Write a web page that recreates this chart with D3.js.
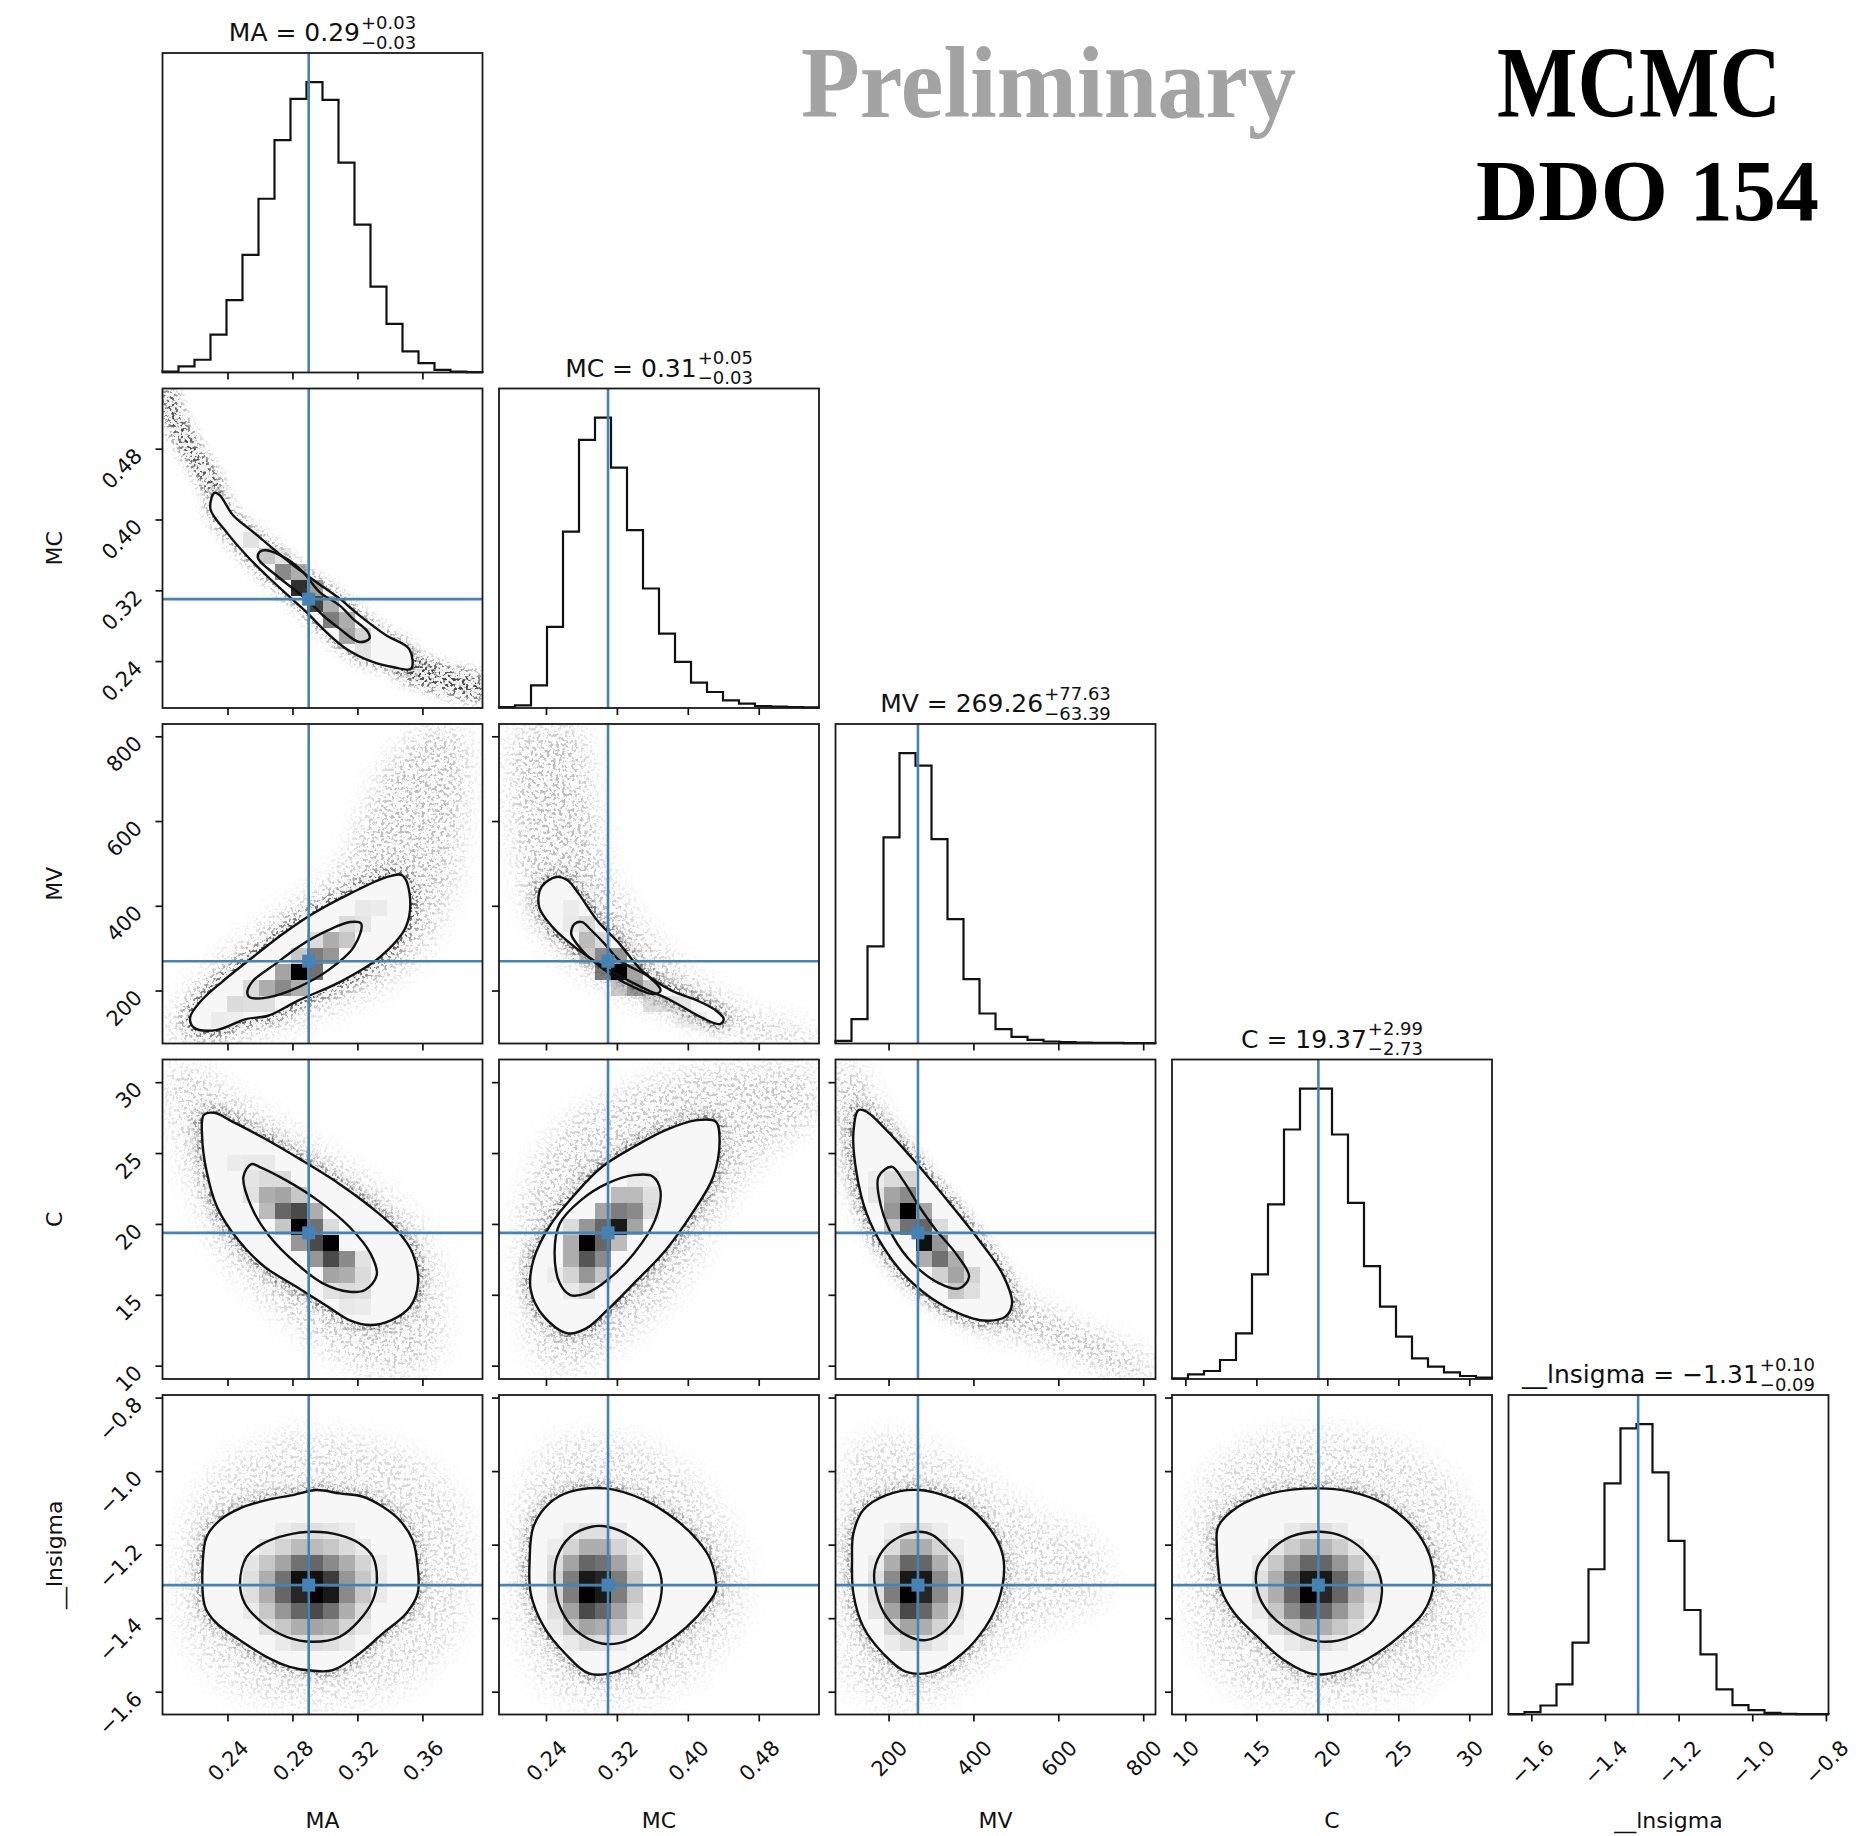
<!DOCTYPE html>
<html>
<head>
<meta charset="utf-8">
<script src="https://cdn.jsdelivr.net/npm/d3@7"></script>
<style>
  html, body { margin: 0; padding: 0; background: #fff; }
  svg { display: block; }
</style>
</head>
<body>
<svg id="fig" width="1860" height="1836"></svg>
<script>
// ---------------- posterior summary ----------------
const paramNames   = ["MA", "MC", "MV", "C", "__lnsigma"];
const paramRanges  = [[0.200, 0.397], [0.187, 0.548], [75, 829], [9.06, 31.6], [-1.662, -0.793]];
const medians      = [0.29, 0.31, 269.26, 19.37, -1.31];
const medianLabels = ["0.29", "0.31", "269.26", "19.37", "\u22121.31"];
const errPlus      = ["0.03", "0.05", "77.63", "2.99", "0.10"];
const errMinus     = ["0.03", "0.03", "63.39", "2.73", "0.09"];
const tickValues   = [[0.24, 0.28, 0.32, 0.36], [0.24, 0.32, 0.40, 0.48], [200, 400, 600, 800],
                      [10, 15, 20, 25, 30], [-1.6, -1.4, -1.2, -1.0, -0.8]];
const tickFormats  = [".2f", ".2f", "d", "d", ".1f"];
const nBins = 20;

// ---------------- 1D marginal histograms (counts per bin) ----------------
const histMA  = [3, 18, 38, 113, 216, 351, 518, 693, 816, 866, 813, 626, 441, 256, 145, 63, 28, 8, 3, 1];
const histMC  = [3, 8, 68, 243, 528, 803, 870, 720, 533, 358, 223, 138, 76, 48, 23, 13, 6, 4, 3, 2];
const histMV  = [8, 73, 291, 618, 871, 833, 613, 373, 193, 90, 43, 20, 11, 6, 4, 3, 2, 2, 1, 1];
const histC   = [2, 14, 24, 57, 137, 314, 524, 749, 872, 872, 734, 529, 339, 217, 127, 62, 37, 20, 9, 4];
const histLns = [1, 7, 27, 90, 215, 435, 692, 857, 870, 725, 520, 313, 180, 75, 28, 13, 5, 2, 1, 1];
const histograms = [histMA, histMC, histMV, histC, histLns];

// ---------------- 2D marginals: contour levels (outer / inner), in data units ----------------
const outerMC_MA = [[0.232,0.430],[0.2295,0.412],[0.2393,0.386],[0.2516,0.3596],[0.2639,0.337],[0.2762,0.316],[0.2885,0.2956],[0.3007,0.273],[0.313,0.254],[0.3294,0.239],[0.3417,0.2333],[0.353,0.2314],[0.352,0.2533],[0.3376,0.2692],[0.3212,0.2917],[0.309,0.3106],[0.2946,0.3294],[0.2803,0.3484],[0.268,0.367],[0.2557,0.386],[0.2434,0.4048],[0.2352,0.4275]];
const innerMC_MA = [[0.2598,0.3634],[0.2588,0.356],[0.270,0.337],[0.2803,0.322],[0.2905,0.307],[0.2987,0.2918],[0.309,0.2767],[0.3212,0.2616],[0.3274,0.2654],[0.3264,0.273],[0.3171,0.288],[0.309,0.303],[0.2967,0.318],[0.2864,0.3408],[0.2762,0.3558],[0.2639,0.3652]];

const outerMV_MA = [[0.2192,112.9],[0.233,106.6],[0.2513,132.6],[0.265,140.5],[0.2834,176],[0.3109,223.5],[0.3338,278.7],[0.3498,349.8],[0.3521,428.7],[0.3475,472],[0.3384,468.2],[0.3155,428.7],[0.2925,381.3],[0.2742,334],[0.2582,286.6],[0.2376,223.5],[0.2238,176],[0.217,136.6]];
const innerMV_MA = [[0.2536,184],[0.265,184],[0.2834,207.6],[0.3017,247],[0.3177,302.4],[0.3223,357.7],[0.3155,361.6],[0.3017,341.8],[0.2834,302.4],[0.2696,262.9],[0.2559,223.5],[0.2522,195.7]];

const outerMV_MC = [[0.2516,468],[0.2349,444.5],[0.2323,397],[0.2474,349.8],[0.2726,302.4],[0.3062,255],[0.3482,207.6],[0.3818,176],[0.4154,136.6],[0.4363,120.8],[0.4405,132.6],[0.4321,152.4],[0.4112,176],[0.3818,199.7],[0.3482,247],[0.323,310.2],[0.2978,365.5],[0.2768,428.7],[0.2643,460.3]];
const innerMV_MC = [[0.2726,357.7],[0.2684,334],[0.281,294.5],[0.302,255],[0.3314,215.5],[0.3608,191.9],[0.3692,199.7],[0.3566,231.3],[0.323,270.8],[0.3062,310.2],[0.2894,345.8],[0.281,361.6]];

const outerC_MA = [[0.2254,27.68],[0.2319,27.84],[0.2433,27.2],[0.2628,26.03],[0.2856,24.5],[0.3084,22.86],[0.328,21.21],[0.3442,19.57],[0.354,17.92],[0.3573,15.81],[0.3524,14.16],[0.341,13.22],[0.328,12.87],[0.315,13.22],[0.3019,14.16],[0.2824,15.57],[0.2628,16.98],[0.2466,18.86],[0.2335,21.21],[0.227,23.8],[0.2244,26.15]];
const innerC_MA = [[0.2547,24.22],[0.2498,23.33],[0.2547,21.21],[0.2661,19.1],[0.2824,17.21],[0.2987,15.81],[0.315,15.22],[0.3247,15.34],[0.3319,16.39],[0.328,17.92],[0.315,19.8],[0.2954,21.68],[0.2759,23.09],[0.2596,24.03]];

const outerC_MC = [[0.4317,27.2],[0.4107,27.32],[0.375,26.62],[0.3392,25.44],[0.3033,24.03],[0.2735,22.15],[0.2437,19.8],[0.2258,17.45],[0.2228,15.34],[0.2377,13.46],[0.2646,12.28],[0.2854,12.63],[0.3093,13.93],[0.3392,15.81],[0.375,18.15],[0.4048,20.74],[0.4287,23.33],[0.4358,25.91]];
const innerC_MC = [[0.36,23.37],[0.3392,23.44],[0.3093,22.86],[0.2795,21.68],[0.2556,20.04],[0.2497,17.92],[0.2556,15.81],[0.2675,14.98],[0.2854,15.1],[0.3093,16.04],[0.3392,17.92],[0.363,20.27],[0.369,22.39]];

const outerC_MV = [[129.5,28.03],[148.2,27.91],[195,26.62],[272.8,24.03],[350.7,21.21],[413,18.86],[467.6,16.51],[491,14.4],[475.4,13.46],[436.4,13.17],[397.5,13.34],[319.6,14.4],[241.7,16.27],[187.2,18.39],[148.2,20.74],[124.8,23.56],[117.1,26.38]];
const innerC_MV = [[207.4,24.03],[176.3,23.33],[182.5,21.21],[210.6,19.1],[257.3,17.21],[319.6,15.81],[366.3,15.45],[389.7,16.27],[358.5,17.92],[311.8,19.57],[272.8,21.21],[233.9,23.09]];

const outerL_MA = [[0.2247,-1.2557],[0.2272,-1.1785],[0.2354,-1.1331],[0.2477,-1.1014],[0.264,-1.0787],[0.2804,-1.0652],[0.2947,-1.0515],[0.309,-1.0606],[0.3234,-1.0697],[0.3356,-1.0969],[0.3459,-1.1331],[0.354,-1.1876],[0.3571,-1.2602],[0.3571,-1.3327],[0.35,-1.3871],[0.3356,-1.4415],[0.3213,-1.496],[0.3049,-1.5414],[0.2927,-1.5432],[0.2783,-1.5323],[0.264,-1.5051],[0.2477,-1.4597],[0.2334,-1.4143],[0.2262,-1.369]];
const innerL_MA = [[0.2477,-1.3055],[0.2518,-1.233],[0.262,-1.1966],[0.2763,-1.174],[0.2927,-1.165],[0.309,-1.174],[0.3213,-1.1966],[0.3295,-1.233],[0.332,-1.2964],[0.3295,-1.3509],[0.3213,-1.4053],[0.309,-1.4507],[0.2927,-1.4642],[0.2763,-1.4507],[0.262,-1.4143],[0.2507,-1.36]];

const outerL_MC = [[0.3063,-1.047],[0.2675,-1.056],[0.2437,-1.0878],[0.2258,-1.1513],[0.2216,-1.242],[0.2228,-1.3327],[0.2377,-1.4235],[0.2616,-1.496],[0.2884,-1.5504],[0.3183,-1.5459],[0.3571,-1.496],[0.3988,-1.4235],[0.4227,-1.36],[0.4317,-1.3236],[0.4257,-1.242],[0.4107,-1.1876],[0.3869,-1.1331],[0.3511,-1.0787]];
const innerL_MC = [[0.2914,-1.1513],[0.2675,-1.1785],[0.2526,-1.233],[0.2497,-1.2964],[0.2556,-1.369],[0.2735,-1.4325],[0.3033,-1.4688],[0.3332,-1.4597],[0.3571,-1.4143],[0.369,-1.3509],[0.369,-1.2783],[0.3571,-1.2238],[0.3362,-1.1785],[0.3093,-1.1513]];

const outerL_MV = [[272.8,-1.0515],[195,-1.0652],[140.4,-1.1059],[117.1,-1.1695],[114,-1.242],[117.1,-1.3327],[140.4,-1.4235],[187.2,-1.496],[241.7,-1.5459],[304,-1.5459],[374.1,-1.496],[428.6,-1.4235],[459.8,-1.3509],[472.3,-1.2602],[463,-1.2057],[428.6,-1.1423],[374.1,-1.0878]];
const innerL_MV = [[272.8,-1.165],[226.1,-1.1785],[187.2,-1.2148],[166.9,-1.2692],[171.6,-1.3327],[195,-1.3963],[241.7,-1.4461],[288.4,-1.4597],[335.1,-1.4325],[366.3,-1.3781],[374.1,-1.3146],[366.3,-1.2511],[335.1,-1.2057],[304,-1.174]];

const outerL_C = [[19.28,-1.047],[16.03,-1.0606],[13.71,-1.0969],[12.31,-1.1513],[12.22,-1.2057],[12.31,-1.2602],[12.54,-1.3236],[13.48,-1.3871],[15.1,-1.4507],[16.96,-1.5142],[19.05,-1.5522],[21.14,-1.5414],[23.47,-1.496],[25.32,-1.4415],[26.72,-1.3871],[27.42,-1.3236],[27.42,-1.2602],[26.95,-1.2057],[25.79,-1.1423],[23.93,-1.0878],[21.61,-1.056]];
const innerL_C = [[19.52,-1.165],[17.42,-1.1785],[16.03,-1.2148],[15.1,-1.2602],[15.01,-1.3137],[15.57,-1.369],[16.96,-1.4235],[19.28,-1.4625],[21.61,-1.4507],[23.24,-1.4053],[23.84,-1.3327],[23.56,-1.2692],[22.54,-1.2148],[21.14,-1.1785]];

// ---------------- 2D histogram cells: [x bin, y bin, density / peak] ----------------
function gridCells(ix0, iy0, rows) {
  const out = [];
  rows.forEach((row, k) => row.forEach((v, m) => { if (v > 0) out.push([ix0 + m, iy0 + k, v]); }));
  return out;
}
const cellsMC_MA = [[5,10,0.3],[6,9,0.45],[7,9,0.3],[7,8,0.67],[8,8,0.55],[8,7,0.9],[9,7,0.6],[9,6,0.85],[10,6,0.55],[10,5,0.71],[11,5,0.55],[11,4,0.59],[12,4,0.39],[12,3,0.3]];
const cellsMV_MA = [[3,1,0.22],[4,1,0.2],[4,2,0.35],[5,2,0.32],[6,2,0.32],[5,3,0.35],[6,3,0.55],[7,3,0.67],[8,3,0.55],[7,4,0.59],[8,4,1],[9,4,0.74],[8,5,0.45],[9,5,0.71],[10,5,0.63],[9,6,0.35],[10,6,0.55],[11,6,0.45],[11,7,0.35],[12,7,0.28],[12,8,0.25],[13,8,0.22]];
const cellsMV_MC = [[4,7,0.25],[4,8,0.22],[5,5,0.45],[5,6,0.5],[5,7,0.35],[6,4,0.71],[6,5,0.67],[6,6,0.35],[7,3,0.45],[7,4,1],[7,5,0.63],[8,3,0.63],[8,4,0.59],[9,2,0.35],[9,3,0.45],[10,2,0.32],[11,1,0.22],[11,2,0.28],[12,1,0.2]];
const cellsC_MA = [[4,13,0.22],[5,13,0.25],[6,13,0.25],[5,12,0.28],[6,12,0.35],[7,12,0.35],[5,11,0.3],[6,11,0.55],[7,11,0.59],[8,11,0.45],[6,10,0.5],[7,10,0.77],[8,10,0.84],[9,10,0.55],[7,9,0.45],[8,9,1],[9,9,0.74],[10,9,0.35],[8,8,0.63],[9,8,0.84],[10,8,1],[9,7,0.63],[10,7,0.84],[11,7,0.67],[12,7,0.3],[10,6,0.59],[11,6,0.55],[12,6,0.35],[10,5,0.3],[11,5,0.35],[12,5,0.32],[11,4,0.25],[12,4,0.22]];
const cellsC_MC = [[3,6,0.22],[4,5,0.25],[4,6,0.39],[4,7,0.55],[4,8,0.55],[4,9,0.35],[5,5,0.39],[5,6,0.63],[5,7,0.81],[5,8,1],[5,9,0.63],[6,6,0.45],[6,7,0.67],[6,8,0.77],[6,9,0.77],[6,10,0.59],[7,8,0.5],[7,9,0.95],[7,10,0.71],[7,11,0.5],[8,9,0.59],[8,10,0.67],[8,11,0.5],[8,12,0.25],[9,10,0.35],[9,11,0.32],[9,12,0.22]];
const cellsC_MV = [[2,11,0.28],[2,12,0.22],[3,9,0.45],[3,10,0.63],[3,11,0.59],[3,12,0.35],[4,9,0.74],[4,10,1],[4,11,0.67],[4,12,0.39],[5,7,0.55],[5,8,0.97],[5,9,0.77],[5,10,0.59],[6,6,0.4],[6,7,0.74],[6,8,0.63],[6,9,0.35],[7,5,0.45],[7,6,0.59],[7,7,0.55],[8,5,0.32],[8,6,0.39]];
const cellsL_MA = gridCells(5, 4, [
  [0, 0, .24, .32, .35, .32, .24, 0, 0],
  [0, .32, .45, .55, .59, .55, .39, .24, 0],
  [.24, .45, .63, .77, .84, .74, .55, .35, 0],
  [.32, .55, .77, .92, 1, .95, .67, .45, .24],
  [.32, .55, .74, .97, .97, .87, .63, .45, .24],
  [.28, .45, .59, .74, .77, .67, .55, .39, .22],
  [0, .28, .39, .5, .5, .45, .35, .24, 0],
  [0, 0, .22, .28, .32, .28, .22, 0, 0]]);
const cellsL_MC = gridCells(3, 4, [
  [0, .24, .35, .32, .24, 0],
  [.24, .45, .59, .55, .45, .24],
  [.32, .59, .84, .77, .59, .35],
  [.39, .71, 1, .95, .71, .45],
  [.39, .71, .95, .92, .71, .45],
  [.32, .59, .77, .74, .59, .35],
  [.22, .39, .55, .55, .39, .24],
  [0, .22, .32, .32, .24, 0]]);
const cellsL_MV = gridCells(2, 4, [
  [0, .22, .35, .32, .22, 0],
  [0, .39, .59, .55, .39, .22],
  [.28, .59, .84, .77, .55, .32],
  [.32, .71, 1, .92, .67, .39],
  [.32, .67, .95, .95, .67, .39],
  [.24, .55, .77, .77, .55, .32],
  [0, .35, .55, .55, .39, .22],
  [0, .22, .32, .32, .22, 0]]);
const cellsL_C = gridCells(5, 4, [
  [0, 0, .24, .32, .32, .24, 0, 0],
  [0, .32, .45, .55, .55, .45, .32, 0],
  [.24, .45, .67, .81, .77, .63, .45, .24],
  [.32, .55, .77, 1, .92, .77, .55, .32],
  [.32, .55, .77, .95, .95, .77, .55, .32],
  [.24, .45, .63, .77, .77, .63, .45, .24],
  [0, .28, .42, .53, .53, .42, .28, 0],
  [0, 0, .24, .32, .32, .24, 0, 0]]);

// ---------------- extent of the loose samples outside the contours ----------------
const cloudMC_MA = [
  [[0.200,0.548],[0.206,0.548],[0.214,0.515],[0.224,0.48],[0.234,0.45],[0.238,0.433],[0.228,0.427],[0.22,0.45],[0.21,0.48],[0.202,0.51],[0.200,0.52]],
  [[0.345,0.250],[0.36,0.244],[0.38,0.232],[0.397,0.222],[0.397,0.195],[0.38,0.2],[0.36,0.21],[0.345,0.224]]];
const cloudMV_MA = [[[0.205,80],[0.225,80],[0.26,100],[0.30,150],[0.335,210],[0.36,290],[0.372,380],[0.38,470],[0.385,600],[0.388,720],[0.385,810],[0.36,810],[0.34,740],[0.325,620],[0.315,520],[0.30,450],[0.275,390],[0.255,330],[0.235,270],[0.218,200],[0.207,140]]];
const cloudMV_MC = [[[0.205,810],[0.28,810],[0.29,700],[0.30,560],[0.31,470],[0.33,400],[0.36,320],[0.40,240],[0.44,180],[0.49,130],[0.548,95],[0.548,75],[0.50,75],[0.45,100],[0.40,130],[0.35,170],[0.30,220],[0.26,280],[0.23,350],[0.215,430],[0.205,550],[0.2,700]]];
const cloudC_MA = [[[0.203,31],[0.222,31],[0.245,29],[0.28,26.5],[0.32,23.5],[0.35,21],[0.365,18.5],[0.372,15],[0.37,11],[0.355,9.5],[0.33,9.5],[0.30,11],[0.275,13.5],[0.25,16],[0.23,19],[0.217,23],[0.207,27]]];
const cloudC_MC = [[[0.33,29.5],[0.40,30.8],[0.50,31.2],[0.54,31],[0.545,27.5],[0.50,25.5],[0.46,23],[0.43,20],[0.40,16.5],[0.36,13.5],[0.32,11.5],[0.28,9.8],[0.245,9.8],[0.225,11],[0.215,14],[0.21,18],[0.215,22],[0.235,25],[0.27,27.5]]];
const cloudC_MV = [[[78,31.2],[115,31.2],[160,29],[230,25.5],[320,21.5],[400,18.5],[470,16],[560,14],[680,12.3],[780,10.8],[825,10],[825,9.3],[760,9.3],[650,10.5],[540,11.8],[440,12.5],[360,13.5],[290,15],[220,17],[160,19.5],[110,22.5],[85,26],[78,28]]];
const cloudL_MA = [[[0.21,-1.25],[0.22,-1.07],[0.245,-0.96],[0.28,-0.9],[0.32,-0.91],[0.355,-0.96],[0.382,-1.07],[0.39,-1.25],[0.382,-1.44],[0.355,-1.57],[0.32,-1.63],[0.265,-1.63],[0.232,-1.56],[0.213,-1.44]]];
const cloudL_MC = [[[0.2,-1.25],[0.21,-1.07],[0.235,-0.95],[0.28,-0.9],[0.34,-0.92],[0.39,-0.98],[0.43,-1.08],[0.46,-1.22],[0.46,-1.4],[0.42,-1.53],[0.37,-1.61],[0.30,-1.64],[0.245,-1.6],[0.21,-1.46]]];
const cloudL_MV = [[[80,-1.05],[110,-0.94],[200,-0.9],[310,-0.94],[430,-1.02],[560,-1.12],[700,-1.2],[700,-1.36],[560,-1.42],[440,-1.52],[330,-1.61],[200,-1.64],[105,-1.58],[80,-1.45]]];
const cloudL_C = [[[10,-1.25],[11,-1.04],[13.5,-0.94],[18,-0.89],[23.5,-0.91],[27.5,-0.98],[30.2,-1.12],[30.8,-1.3],[29.5,-1.48],[26,-1.6],[19,-1.64],[13.5,-1.6],[11,-1.48]]];

const pairPanels = [
  { row: 1, col: 0, outer: outerMC_MA, inner: innerMC_MA, cells: cellsMC_MA, cloud: cloudMC_MA },
  { row: 2, col: 0, outer: outerMV_MA, inner: innerMV_MA, cells: cellsMV_MA, cloud: cloudMV_MA },
  { row: 2, col: 1, outer: outerMV_MC, inner: innerMV_MC, cells: cellsMV_MC, cloud: cloudMV_MC },
  { row: 3, col: 0, outer: outerC_MA,  inner: innerC_MA,  cells: cellsC_MA,  cloud: cloudC_MA },
  { row: 3, col: 1, outer: outerC_MC,  inner: innerC_MC,  cells: cellsC_MC,  cloud: cloudC_MC },
  { row: 3, col: 2, outer: outerC_MV,  inner: innerC_MV,  cells: cellsC_MV,  cloud: cloudC_MV },
  { row: 4, col: 0, outer: outerL_MA,  inner: innerL_MA,  cells: cellsL_MA,  cloud: cloudL_MA },
  { row: 4, col: 1, outer: outerL_MC,  inner: innerL_MC,  cells: cellsL_MC,  cloud: cloudL_MC },
  { row: 4, col: 2, outer: outerL_MV,  inner: innerL_MV,  cells: cellsL_MV,  cloud: cloudL_MV },
  { row: 4, col: 3, outer: outerL_C,   inner: innerL_C,   cells: cellsL_C,   cloud: cloudL_C }
];

// ---------------- styling ----------------
const pointStyle = {
  "1,0": { cloud: 0.75, rim: 0.4, blur: 6 },
  "2,0": { cloud: 0.26, rim: 0.6, blur: 13 }, "2,1": { cloud: 0.26, rim: 0.6, blur: 13 },
  "3,0": { cloud: 0.22, rim: 0.55, blur: 13 }, "3,1": { cloud: 0.22, rim: 0.55, blur: 13 }, "3,2": { cloud: 0.3, rim: 0.6, blur: 13 },
  "4,0": { cloud: 0.16, rim: 0.45, blur: 13 }, "4,1": { cloud: 0.16, rim: 0.45, blur: 13 },
  "4,2": { cloud: 0.16, rim: 0.45, blur: 13 }, "4,3": { cloud: 0.16, rim: 0.45, blur: 13 }
};
const W = 1860, H = 1836;
const gridLeft = 162.5, gridTop = 53, boxW = 320, boxH = 319.5, stepX = 336.5, stepY = 335.5;
const FONT = "'DejaVu Sans', 'Liberation Sans', sans-serif";
const TRUTH = "#4682b4";
const tickFont = 21, labelFont = 22, titleFont = 25, scriptFont = 18;

const svg = d3.select("#fig");
svg.append("rect").attr("width", W).attr("height", H).attr("fill", "#fff");
const defs = svg.append("defs");

function box(r, c) { return { x: gridLeft + c * stepX, y: gridTop + r * stepY, w: boxW, h: boxH }; }
function xScale(c, b) { return d3.scaleLinear().domain(paramRanges[c]).range([b.x, b.x + b.w]); }
function yScale(r, b) { return d3.scaleLinear().domain(paramRanges[r]).range([b.y + b.h, b.y]); }

// x axis at the bottom of a panel; labels only on the last row
function drawXAxis(c, b, xs, withLabels) {
  const fmt = d3.format(tickFormats[c]);
  const ax = svg.append("g").attr("transform", `translate(0,${b.y + b.h})`)
    .call(d3.axisBottom(xs).tickValues(tickValues[c]).tickSize(7).tickFormat(withLabels ? fmt : () => ""));
  ax.select(".domain").remove();
  ax.selectAll(".tick line").attr("stroke", "#111").attr("stroke-width", 1.7);
  ax.selectAll(".tick text").each(function () {
    const t = d3.select(this);
    if (!withLabels) { t.remove(); return; }
    t.attr("font-family", FONT).attr("font-size", tickFont).attr("fill", "#111")
      .attr("y", null).attr("dy", null).attr("x", null);
    const w = this.getComputedTextLength(), h = 0.73 * tickFont;
    const ex = 0.3535 * (w + h), ey = 24 + 0.707 * h;
    t.attr("text-anchor", "end").attr("transform", `translate(${ex},${ey}) rotate(-45)`);
  });
  ax.attr("font-family", null).attr("font-size", null);
}

// y axis at the left of a 2D panel; labels only in the first column
function drawYAxis(r, b, ys, withLabels) {
  const fmt = d3.format(tickFormats[r]);
  const ax = svg.append("g").attr("transform", `translate(${b.x},0)`)
    .call(d3.axisLeft(ys).tickValues(tickValues[r]).tickSize(7).tickFormat(withLabels ? fmt : () => ""));
  ax.select(".domain").remove();
  ax.selectAll(".tick line").attr("stroke", "#111").attr("stroke-width", 1.7);
  ax.selectAll(".tick text").each(function () {
    const t = d3.select(this);
    if (!withLabels) { t.remove(); return; }
    t.attr("font-family", FONT).attr("font-size", tickFont).attr("fill", "#111")
      .attr("y", null).attr("dy", null).attr("x", null);
    t.attr("text-anchor", "end").attr("transform", `translate(-19,8) rotate(-45)`);
  });
  ax.attr("font-family", null).attr("font-size", null);
}

function frame(b) {
  svg.append("rect").attr("x", b.x).attr("y", b.y).attr("width", b.w).attr("height", b.h)
    .attr("fill", "none").attr("stroke", "#1a1a1a").attr("stroke-width", 1.8);
}

// grainy point-cloud filter: blurred coverage multiplied by thresholded noise
function speckleFilter(id, b, blur, seed) {
  const f = defs.append("filter").attr("id", id).attr("filterUnits", "userSpaceOnUse")
    .attr("x", b.x).attr("y", b.y).attr("width", b.w).attr("height", b.h)
    .attr("color-interpolation-filters", "sRGB");
  f.append("feGaussianBlur").attr("in", "SourceAlpha").attr("stdDeviation", blur).attr("result", "soft");
  f.append("feTurbulence").attr("type", "fractalNoise").attr("baseFrequency", 0.32)
    .attr("numOctaves", 2).attr("seed", seed).attr("result", "noise");
  f.append("feColorMatrix").attr("in", "noise").attr("type", "matrix")
    .attr("values", "0 0 0 0 0  0 0 0 0 0  0 0 0 0 0  8 0 0 0 -4.15").attr("result", "dots");
  f.append("feComposite").attr("in", "dots").attr("in2", "soft").attr("operator", "arithmetic")
    .attr("k1", 0.9).attr("k2", 0).attr("k3", 0.08).attr("k4", 0);
}

// ---------------- diagonal: 1D histograms ----------------
paramNames.forEach((name, i) => {
  const b = box(i, i);
  const xs = xScale(i, b);
  const counts = histograms[i];
  const ys = d3.scaleLinear().domain([0, 1.1 * d3.max(counts)]).range([b.y + b.h, b.y]);
  const [lo, hi] = paramRanges[i];
  const edges = d3.range(nBins + 1).map(k => lo + k * (hi - lo) / nBins);
  const pts = [[edges[0], 0]];
  counts.forEach((v, k) => { pts.push([edges[k], v], [edges[k + 1], v]); });
  pts.push([edges[nBins], 0]);
  svg.append("path").attr("d", d3.line().x(d => xs(d[0])).y(d => ys(d[1]))(pts))
    .attr("fill", "none").attr("stroke", "#111").attr("stroke-width", 2.2).attr("stroke-linejoin", "miter");
  svg.append("line").attr("x1", xs(medians[i])).attr("x2", xs(medians[i]))
    .attr("y1", b.y).attr("y2", b.y + b.h).attr("stroke", TRUTH).attr("stroke-width", 2.6);
  frame(b);
  drawXAxis(i, b, xs, i === paramNames.length - 1);

  // title: name = median with +/- errors
  const tg = svg.append("g");
  const baseY = b.y - 12;
  const main = tg.append("text").attr("x", 0).attr("y", baseY).attr("font-family", FONT)
    .attr("font-size", titleFont).attr("fill", "#111").text(`${name} = ${medianLabels[i]}`);
  const mw = main.node().getComputedTextLength() + 1;
  const sup = tg.append("text").attr("x", mw).attr("y", baseY - 12.5).attr("font-family", FONT)
    .attr("font-size", scriptFont).attr("fill", "#111").text(`+${errPlus[i]}`);
  const sub = tg.append("text").attr("x", mw).attr("y", baseY + 7.5).attr("font-family", FONT)
    .attr("font-size", scriptFont).attr("fill", "#111").text(`\u2212${errMinus[i]}`);
  const total = mw + Math.max(sup.node().getComputedTextLength(), sub.node().getComputedTextLength());
  tg.attr("transform", `translate(${b.x + b.w / 2 - total / 2},0)`);
});

// ---------------- off-diagonal: 2D marginals ----------------
pairPanels.forEach((p, idx) => {
  const b = box(p.row, p.col);
  const xs = xScale(p.col, b), ys = yScale(p.row, b);
  const st = pointStyle[`${p.row},${p.col}`];
  const clipId = `clip-${p.row}-${p.col}`;
  defs.append("clipPath").attr("id", clipId).append("rect")
    .attr("x", b.x).attr("y", b.y).attr("width", b.w).attr("height", b.h);

  const cloudId = `spk-cloud-${p.row}-${p.col}`, rimId = `spk-rim-${p.row}-${p.col}`;
  speckleFilter(cloudId, b, st.blur, 11 + idx * 7);
  speckleFilter(rimId, b, 6, 5 + idx * 13);

  const smooth = d3.line().x(d => xs(d[0])).y(d => ys(d[1])).curve(d3.curveCatmullRomClosed.alpha(0.5));
  const g = svg.append("g").attr("clip-path", `url(#${clipId})`);

  // loose samples: wide faint cloud plus a denser rim along the outer level
  const cloudG = g.append("g").attr("filter", `url(#${cloudId})`);
  p.cloud.forEach(poly => {
    cloudG.append("path").attr("d", smooth(poly)).attr("fill", "#000").attr("fill-opacity", st.cloud);
  });
  g.append("g").attr("filter", `url(#${rimId})`).append("path").attr("d", smooth(p.outer))
    .attr("fill", "#000").attr("fill-opacity", st.rim)
    .attr("stroke", "#000").attr("stroke-opacity", st.rim).attr("stroke-width", 12);

  // interior of the outer level
  g.append("path").attr("d", smooth(p.outer)).attr("fill", "#f7f7f7");

  // density cells: transparent white -> black
  const [xlo, xhi] = paramRanges[p.col], [ylo, yhi] = paramRanges[p.row];
  const bx = (xhi - xlo) / nBins, by = (yhi - ylo) / nBins;
  g.append("g").attr("shape-rendering", "crispEdges").selectAll("rect").data(p.cells).join("rect")
    .attr("x", d => xs(xlo + d[0] * bx))
    .attr("y", d => ys(ylo + (d[1] + 1) * by))
    .attr("width", d => xs(xlo + (d[0] + 1) * bx) - xs(xlo + d[0] * bx))
    .attr("height", d => ys(ylo + d[1] * by) - ys(ylo + (d[1] + 1) * by))
    .attr("fill", d => { const t = Math.round(255 * (1 - d[2])); return `rgb(${t},${t},${t})`; })
    .attr("fill-opacity", d => d[2]);

  // contour levels
  [p.outer, p.inner].forEach(level => {
    g.append("path").attr("d", smooth(level)).attr("fill", "none")
      .attr("stroke", "#111").attr("stroke-width", 2.4);
  });

  // truth lines and marker
  g.append("line").attr("x1", xs(medians[p.col])).attr("x2", xs(medians[p.col]))
    .attr("y1", b.y).attr("y2", b.y + b.h).attr("stroke", TRUTH).attr("stroke-width", 2.6);
  g.append("line").attr("x1", b.x).attr("x2", b.x + b.w)
    .attr("y1", ys(medians[p.row])).attr("y2", ys(medians[p.row])).attr("stroke", TRUTH).attr("stroke-width", 2.6);
  g.append("rect").attr("x", xs(medians[p.col]) - 6.5).attr("y", ys(medians[p.row]) - 6.5)
    .attr("width", 13).attr("height", 13).attr("fill", TRUTH);

  frame(b);
  drawXAxis(p.col, b, xs, p.row === paramNames.length - 1);
  drawYAxis(p.row, b, ys, p.col === 0);
});

// ---------------- axis labels ----------------
paramNames.forEach((name, i) => {
  const bb = box(paramNames.length - 1, i);
  svg.append("text").attr("x", bb.x + bb.w / 2).attr("y", bb.y + bb.h + 113)
    .attr("text-anchor", "middle").attr("font-family", FONT).attr("font-size", labelFont)
    .attr("fill", "#111").text(name);
  if (i > 0) {
    const br = box(i, 0);
    svg.append("text").attr("transform", `translate(62,${br.y + br.h / 2}) rotate(-90)`)
      .attr("text-anchor", "middle").attr("font-family", FONT).attr("font-size", labelFont)
      .attr("fill", "#111").text(name);
  }
});

// ---------------- headline text ----------------
const SERIF = "'Liberation Serif', 'DejaVu Serif', serif";
svg.append("text").attr("x", 801).attr("y", 117).attr("font-family", SERIF).attr("font-weight", "bold")
  .attr("font-size", 101).attr("fill", "#a3a3a3").attr("textLength", 495).attr("lengthAdjust", "spacingAndGlyphs")
  .text("Preliminary");
svg.append("text").attr("x", 1497).attr("y", 117).attr("font-family", SERIF).attr("font-weight", "bold")
  .attr("font-size", 101).attr("fill", "#000").attr("textLength", 284).attr("lengthAdjust", "spacingAndGlyphs")
  .text("MCMC");
svg.append("text").attr("x", 1476).attr("y", 220).attr("font-family", SERIF).attr("font-weight", "bold")
  .attr("font-size", 86).attr("fill", "#000").attr("textLength", 343).attr("lengthAdjust", "spacingAndGlyphs")
  .text("DDO 154");
</script>
</body>
</html>
